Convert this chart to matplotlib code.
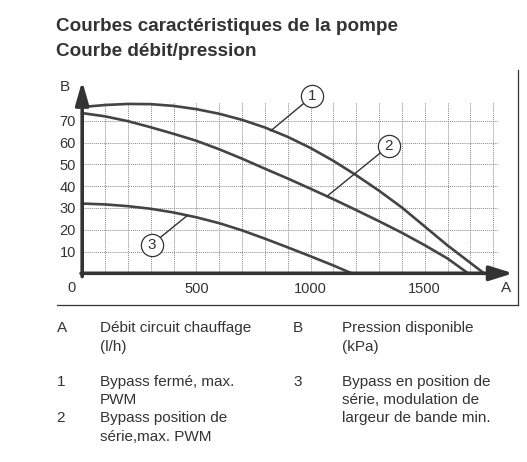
import matplotlib
matplotlib.use("Agg")
import matplotlib.pyplot as plt
from matplotlib.lines import Line2D

plt.rcParams['font.family'] = ['Liberation Sans', 'DejaVu Sans']

# courbes (debit l/h, pression kPa)
flow_1 = [0, 100, 200, 300, 400, 500, 600, 700, 800, 900, 1000, 1100, 1200, 1300, 1400, 1500, 1600, 1700, 1760]
press_1 = [76.3, 77.2, 77.7, 77.6, 76.8, 75.3, 73.2, 70.4, 66.9, 62.6, 57.5, 51.6, 45.0, 37.9, 30.2, 21.5, 12.8, 4.8, 0]

flow_2 = [0, 100, 200, 300, 400, 500, 600, 700, 800, 900, 1000, 1100, 1200, 1300, 1400, 1500, 1600, 1690]
press_2 = [73.5, 72.0, 69.8, 67.0, 64.0, 60.8, 56.9, 52.6, 48.0, 43.5, 38.8, 34.0, 29.0, 23.9, 18.6, 12.9, 6.8, 0]

flow_3 = [0, 100, 200, 300, 400, 500, 600, 700, 800, 900, 1000, 1100, 1180]
press_3 = [32.0, 31.6, 30.8, 29.6, 27.9, 25.7, 23.0, 19.7, 15.9, 11.9, 7.8, 3.6, 0]

x_ticks = [500, 1000, 1500]
y_ticks = [10, 20, 30, 40, 50, 60, 70]
x_grid = list(range(100, 1900, 100))

curve_labels = ["1", "2", "3"]

dark = "#333333"
W, H = 527, 462

fig = plt.figure(figsize=(W / 100, H / 100), dpi=100)
ax = fig.add_axes([82.2 / W, (H - 273.3) / H, (516 - 82.2) / W, (273.3 - 79.3) / H])
ax.set_xlim(0, 1900)
ax.set_ylim(0, 89)
for s in ax.spines.values():
    s.set_visible(False)

# grille pointillee
ax.vlines(x_grid, 0, 78.5, colors="#8a8a8a", linestyles=(0, (1, 1)), lw=0.7, zorder=1)
ax.hlines(y_ticks, 0, 1820, colors="#8a8a8a", linestyles=(0, (1, 1)), lw=0.7, zorder=1)

# courbes
for fx, py in [(flow_1, press_1), (flow_2, press_2), (flow_3, press_3)]:
    ax.plot(fx, py, color="#444444", lw=1.9, zorder=3, clip_on=False, solid_joinstyle="round")

# axes avec fleches
ax.annotate("", xy=(1887, 0), xytext=(-5, 0),
            arrowprops=dict(arrowstyle="-|>,head_length=0.7,head_width=0.22",
                            mutation_scale=20, lw=2.6, color=dark, shrinkA=0, shrinkB=0),
            annotation_clip=False, zorder=4)
ax.annotate("", xy=(0, 88.2), xytext=(0, -1.5),
            arrowprops=dict(arrowstyle="-|>,head_length=0.7,head_width=0.2",
                            mutation_scale=20, lw=2.6, color=dark, shrinkA=0, shrinkB=0),
            annotation_clip=False, zorder=4)

ax.set_xticks(x_ticks)
ax.set_xticklabels([str(v) for v in x_ticks])
ax.set_yticks(y_ticks)
ax.set_yticklabels([str(v) for v in y_ticks])
ax.tick_params(length=0, labelsize=10.5, labelcolor=dark)
ax.tick_params(axis="x", pad=6)
ax.tick_params(axis="y", pad=4.5)

ax.text(-46, -6.8, "0", ha="center", va="center", fontsize=10.5, color=dark)
ax.text(1858, -6.8, "A", ha="center", va="center", fontsize=11, color=dark)
ax.text(-75, 85.5, "B", ha="center", va="center", fontsize=11, color=dark)

# reperes numerotes
callouts = [((1008, 81.2), (826, 65.4)), ((1343, 58.4), (1073, 35.4)), ((304, 13.2), (458, 26.3))]
for lab, (c, e) in zip(curve_labels, callouts):
    ax.plot([c[0], e[0]], [c[1], e[1]], color=dark, lw=1.0, zorder=5, clip_on=False)
    ax.plot(c[0], c[1], marker="o", markersize=16, markerfacecolor="white",
            markeredgecolor=dark, markeredgewidth=0.9, zorder=6, clip_on=False)
    ax.text(c[0], c[1], lab, ha="center", va="center", fontsize=11, color=dark, zorder=7)

# cadre
fig.add_artist(Line2D([518.3 / W, 518.3 / W], [1 - 70 / H, 1 - 304.5 / H], color=dark, lw=0.9))
fig.add_artist(Line2D([57 / W, 518.3 / W], [1 - 304.5 / H, 1 - 304.5 / H], color=dark, lw=0.9))

# titres
fig.text(56 / W, 1 - 26.5 / H, "Courbes caractéristiques de la pompe", fontsize=13.6,
         fontweight="bold", color=dark, va="center", ha="left")
fig.text(56 / W, 1 - 51.5 / H, "Courbe débit/pression", fontsize=13.6,
         fontweight="bold", color=dark, va="center", ha="left")

# legende
def note(x, y, s):
    fig.text(x / W, 1 - y / H, s, fontsize=11, color=dark, va="center", ha="left")

note(56.5, 328.3, "A")
note(100, 328.3, "Débit circuit chauffage")
note(100, 346.7, "(l/h)")
note(293, 328.3, "B")
note(342, 328.3, "Pression disponible")
note(342, 346.7, "(kPa)")
note(56.5, 381.7, "1")
note(100, 381.7, "Bypass fermé, max.")
note(100, 400, "PWM")
note(56.5, 418.3, "2")
note(100, 418.3, "Bypass position de")
note(100, 436.7, "série,max. PWM")
note(293, 381.7, "3")
note(342, 381.7, "Bypass en position de")
note(342, 400, "série, modulation de")
note(342, 418.3, "largeur de bande min.")

fig.savefig("out.png", dpi=100, facecolor="white")
